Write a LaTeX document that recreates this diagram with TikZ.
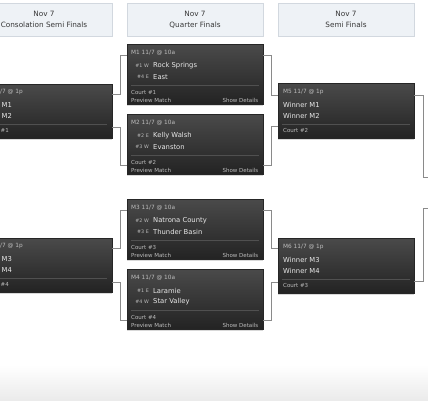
\documentclass[tikz,border=0pt]{standalone}
\usepackage{fontspec}
\setmainfont{DejaVu Sans}
\usetikzlibrary{positioning, calc, shadows}
\usepackage{xcolor}
\definecolor{bkhead}{HTML}{EEF2F6}
\definecolor{bkheadline}{HTML}{D2D8DF}
\definecolor{bkcardtop}{HTML}{4A4A4A}
\definecolor{bkcardbot}{HTML}{232323}
\definecolor{bkline}{HTML}{8A8A8A}
\definecolor{bksep}{HTML}{505050}
\definecolor{bktext}{HTML}{E8E8E8}
\definecolor{bkdim}{HTML}{BDBDBD}

\tikzset{
  header/.style={draw=bkheadline, fill=bkhead, minimum width=136pt, minimum height=33pt,
                 inner sep=0pt, align=center, text=black!78,
                 font=\fontsize{7.3}{11}\selectfont},
  card/.style={draw=black!85, top color=bkcardtop, bottom color=bkcardbot,
               minimum width=136pt, inner sep=0pt, anchor=north west,
               drop shadow={opacity=0.3, shadow xshift=0pt, shadow yshift=-2pt}},
  cardtitle/.style={anchor=west, inner sep=0pt, text=bkdim, font=\fontsize{5.8}{6}\selectfont},
  team/.style={anchor=west, inner sep=0pt, text=bktext, font=\fontsize{6.8}{8}\selectfont},
  seed/.style={anchor=east, inner sep=0pt, text=bkdim, font=\fontsize{4.8}{5}\selectfont},
  foot/.style={anchor=west, inner sep=0pt, text=bkdim, font=\fontsize{5.5}{6}\selectfont},
  sepline/.style={draw=bksep, line width=0.6pt},
  link/.style={draw=bkline, line width=0.8pt},
}

\begin{document}
\begin{tikzpicture}[x=1pt, y=1pt]
  \useasboundingbox (0,0) rectangle (428,-400);
  \fill[white] (0,0) rectangle (428,-400);
  \fill[top color=white, bottom color=black!8] (0,-365) rectangle (428,-400);

  % round headers
  \node[header] (hcons) at (44,-19.5) {Nov 7\\Consolation Semi Finals};
  \node[header] (hquar) at (195,-19.5) {Nov 7\\Quarter Finals};
  \node[header] (hsemi) at (346,-19.5) {Nov 7\\Semi Finals};

  % consolation cards (cut by the left edge)
  \foreach \name/\top/\wa/\wb/\court in {cs1/84/M1/M2/1, cs2/238/M3/M4/4} {
    \node[card, minimum height=54pt] (\name) at (-24,-\top) {};
    \node[cardtitle] at ([xshift=24pt, yshift=-8pt]\name.north west) {/7 @ 1p};
    \node[team] at ([xshift=25.5pt, yshift=-21pt]\name.north west) {\wa};
    \node[team] at ([xshift=25.5pt, yshift=-32pt]\name.north west) {\wb};
    \draw[sepline] ([xshift=24pt, yshift=-40pt]\name.north west) -- ([xshift=-5pt, yshift=-40pt]\name.north east);
    \node[foot] at ([xshift=24.5pt, yshift=-46pt]\name.north west) {\#\court};
  }

  % quarter finals
  \foreach \n/\top/\sa/\ta/\sb/\tb in {
      1/44/\#1 W/Rock Springs/\#4 E/East,
      2/114/\#2 E/Kelly Walsh/\#3 W/Evanston,
      3/199/\#2 W/Natrona County/\#3 E/Thunder Basin,
      4/269/\#1 E/Laramie/\#4 W/Star Valley} {
    \node[card, minimum height=60pt] (m\n) at (127,-\top) {};
    \node[cardtitle] at ([xshift=4pt, yshift=-9pt]m\n.north west) {M\n{} 11/7 @ 10a};
    \node[seed] at ([xshift=22pt, yshift=-22pt]m\n.north west) {\sa};
    \node[team] at ([xshift=26pt, yshift=-22pt]m\n.north west) {\ta};
    \node[seed] at ([xshift=22pt, yshift=-33pt]m\n.north west) {\sb};
    \node[team] at ([xshift=26pt, yshift=-33pt]m\n.north west) {\tb};
    \draw[sepline] ([xshift=4pt, yshift=-41pt]m\n.north west) -- ([xshift=-4pt, yshift=-41pt]m\n.north east);
    \node[foot] at ([xshift=4pt, yshift=-48pt]m\n.north west) {Court \#\n};
    \node[foot] at ([xshift=4pt, yshift=-56pt]m\n.north west) {Preview Match};
    \node[foot, anchor=east] at ([xshift=-5pt, yshift=-56pt]m\n.north east) {Show Details};
  }

  % semi finals
  \foreach \n/\top/\wa/\wb/\court in {5/83/1/2/2, 6/238/3/4/3} {
    \node[card, minimum height=55pt] (m\n) at (278,-\top) {};
    \node[cardtitle] at ([xshift=5pt, yshift=-9pt]m\n.north west) {M\n{} 11/7 @ 1p};
    \node[team] at ([xshift=5pt, yshift=-22pt]m\n.north west) {Winner M\wa};
    \node[team] at ([xshift=5pt, yshift=-33pt]m\n.north west) {Winner M\wb};
    \draw[sepline] ([xshift=4pt, yshift=-41pt]m\n.north west) -- ([xshift=-4pt, yshift=-41pt]m\n.north east);
    \node[foot] at ([xshift=5pt, yshift=-47pt]m\n.north west) {Court \#\court};
  }

  % open ends on the right
  \coordinate (outa) at (430,-177);
  \coordinate (outb) at (430,-208);

  % connectors
  \draw[link] ([yshift=-11pt]m1.north west) -- ++(-7,0) |- ([yshift=-10pt]cs1.north east);
  \draw[link] ([yshift=9pt]m2.south west) -- ++(-7,0) |- ([yshift=11pt]cs1.south east);
  \draw[link] ([yshift=-11pt]m3.north west) -- ++(-7,0) |- ([yshift=-10pt]cs2.north east);
  \draw[link] ([yshift=9pt]m4.south west) -- ++(-7,0) |- ([yshift=10pt]cs2.south east);
  \draw[link] ([yshift=-11pt]m1.north east) -- ++(8,0) |- ([yshift=-12pt]m5.north west);
  \draw[link] ([yshift=9pt]m2.south east) -- ++(8,0) |- ([yshift=12pt]m5.south west);
  \draw[link] ([yshift=-11pt]m3.north east) -- ++(8,0) |- ([yshift=-10pt]m6.north west);
  \draw[link] ([yshift=9pt]m4.south east) -- ++(8,0) |- ([yshift=11pt]m6.south west);
  \draw[link] ([yshift=-12pt]m5.north east) -- ++(9,0) |- (outa);
  \draw[link] ([yshift=12pt]m6.south east) -- ++(9,0) |- (outb);
\end{tikzpicture}
\end{document}
